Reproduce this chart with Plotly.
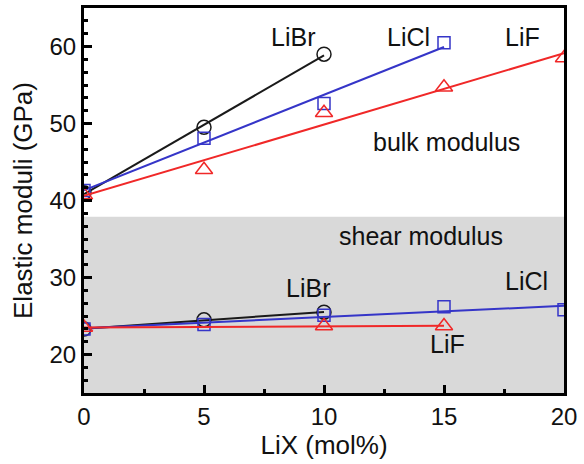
import numpy as np
import plotly.graph_objects as go

# Bulk modulus data (GPa) vs LiX content (mol%)
bulk_libr_x = [0, 5, 10]
bulk_libr_y = [41.0, 49.5, 59.0]
bulk_licl_x = [0, 5, 10, 15]
bulk_licl_y = [41.3, 48.1, 52.6, 60.5]
bulk_lif_x = [0, 5, 10, 15, 20]
bulk_lif_y = [40.7, 44.0, 51.4, 54.7, 58.5]

# Shear modulus data (GPa)
shear_libr_x = [0, 5, 10]
shear_libr_y = [23.3, 24.5, 25.5]
shear_licl_x = [0, 5, 10, 15, 20]
shear_licl_y = [23.3, 23.9, 25.1, 26.2, 25.8]
shear_lif_x = [0, 10, 15]
shear_lif_y = [23.5, 23.7, 23.7]

x_ticks = [0, 5, 10, 15, 20]
y_ticks = [20, 30, 40, 50, 60]

BLACK = "#1a1a1a"
BLUE = "#3535c8"
RED = "#f02828"
FONT = "Liberation Sans, Arial, sans-serif"

fig = go.Figure()

series = [
    (bulk_libr_x, bulk_libr_y, BLACK, "circle-open", 14),
    (bulk_licl_x, bulk_licl_y, BLUE, "square-open", 12),
    (bulk_lif_x, bulk_lif_y, RED, "triangle-up-open", 15),
    (shear_libr_x, shear_libr_y, BLACK, "circle-open", 14),
    (shear_licl_x, shear_licl_y, BLUE, "square-open", 12),
    (shear_lif_x, shear_lif_y, RED, "triangle-up-open", 15),
]

for xs, ys, col, sym, sz in series:
    xa = np.array(xs, dtype=float)
    ya = np.array(ys, dtype=float)
    k, b = np.polyfit(xa, ya, 1)
    xf = np.array([xa.min(), xa.max()])
    fig.add_trace(go.Scatter(x=xf, y=k * xf + b, mode="lines",
                             line=dict(color=col, width=2), showlegend=False,
                             hoverinfo="skip"))
    fig.add_trace(go.Scatter(x=xs, y=ys, mode="markers",
                             marker=dict(symbol=sym, size=sz, color=col,
                                         line=dict(color=col, width=1.5)),
                             showlegend=False))

fig.add_shape(type="rect", xref="paper", yref="y", x0=0, x1=1, y0=15, y1=37.9,
              fillcolor="#d9d9d9", line=dict(width=0), layer="below")

labels = [
    ("LiBr", 8.7, 61.2), ("LiCl", 13.5, 61.2), ("LiF", 18.25, 61.2),
    ("bulk modulus", 15.1, 47.6), ("shear modulus", 14.05, 35.4),
    ("LiBr", 9.35, 28.6), ("LiCl", 18.45, 29.6), ("LiF", 15.15, 21.3),
]
for t, x, y in labels:
    fig.add_annotation(x=x, y=y, xref="x", yref="y", text=t, showarrow=False,
                       font=dict(family=FONT, size=25, color="#111"))

axis_common = dict(
    showgrid=False, zeroline=False, showline=True, linecolor="black",
    linewidth=3, mirror=True, ticks="inside", ticklen=8, tickwidth=2.5,
    tickcolor="black", tickfont=dict(family=FONT, size=24, color="#111"),
)

fig.update_xaxes(range=[0, 20], tickvals=x_ticks,
                 title=dict(text="LiX (mol%)", font=dict(family=FONT, size=26, color="#111"), standoff=6),
                 minor=dict(dtick=2.5, tick0=0, ticks="inside", ticklen=4, tickwidth=2.5, tickcolor="black"),
                 **axis_common)
fig.update_yaxes(range=[15, 65], tickvals=y_ticks,
                 title=dict(text="Elastic moduli (GPa)", font=dict(family=FONT, size=26, color="#111"), standoff=10),
                 minor=dict(dtick=10 / 6, tick0=0, ticks="inside", ticklen=4, tickwidth=2.5, tickcolor="black"),
                 **axis_common)

fig.update_layout(
    width=584, height=464,
    margin=dict(l=84, r=20, t=5, b=71),
    plot_bgcolor="white", paper_bgcolor="white",
    font=dict(family=FONT),
)

fig.write_html("out.html")
